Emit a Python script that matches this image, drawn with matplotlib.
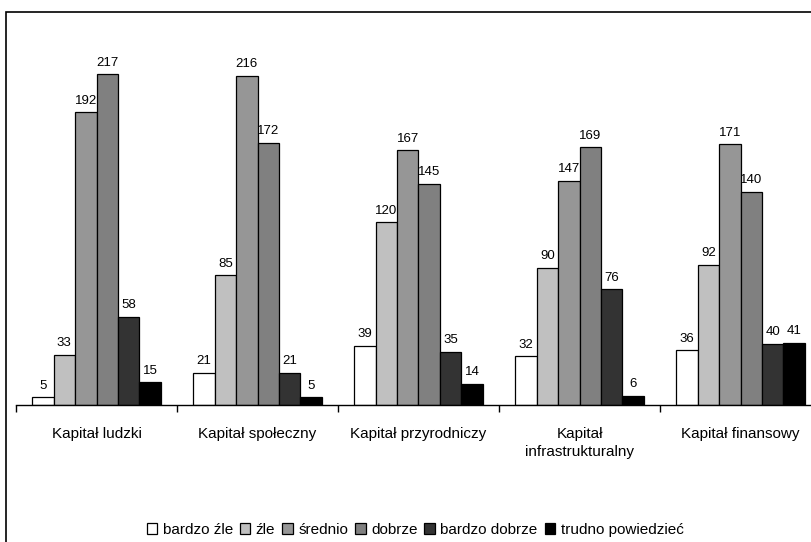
import matplotlib
matplotlib.use("Agg")
import matplotlib.pyplot as plt
import numpy as np
from matplotlib.patches import Rectangle

plt.rcParams['font.family'] = ['Liberation Sans', 'DejaVu Sans']

categories = ["Kapitał ludzki", "Kapitał społeczny", "Kapitał przyrodniczy",
              "Kapitał\ninfrastrukturalny", "Kapitał finansowy"]
series_names = ["bardzo źle", "źle", "średnio", "dobrze", "bardzo dobrze", "trudno powiedzieć"]
bardzo_zle = [5, 21, 39, 32, 36]
zle = [33, 85, 120, 90, 92]
srednio = [192, 216, 167, 147, 171]
dobrze = [217, 172, 145, 169, 140]
bardzo_dobrze = [58, 21, 35, 76, 40]
trudno = [15, 5, 14, 6, 41]
series = [bardzo_zle, zle, srednio, dobrze, bardzo_dobrze, trudno]
colors = ["#FFFFFF", "#C0C0C0", "#969696", "#808080", "#333333", "#000000"]

W, H = 812, 542
fig = plt.figure(figsize=(W / 100, H / 100), dpi=100)
fig.patch.set_facecolor("white")

# outer frame (extends beyond right/bottom edges)
fig.patches.append(Rectangle((6 / W, -0.1), 1.2, 1 - 12 / H + 0.1, transform=fig.transFigure,
                             fill=False, edgecolor="black", linewidth=1.2))

ax_left, ax_right = 16, 821
base_y, top_y = 405, 24
ax = fig.add_axes([ax_left / W, 1 - base_y / H, (ax_right - ax_left) / W, (base_y - top_y) / H])
ax.set_xlim(-0.5, len(categories) - 0.5)
ax.set_ylim(0, 250)

x = np.arange(len(categories))
bw = 0.1335
n = len(series)
for i, (vals, c, name) in enumerate(zip(series, colors, series_names)):
    pos = x + (i - (n - 1) / 2) * bw
    bars = ax.bar(pos, vals, width=bw, color=c, edgecolor="black", linewidth=0.9, label=name)
    for b, v in zip(bars, vals):
        ax.annotate(str(v), (b.get_x() + b.get_width() / 2, v), xytext=(0, 4),
                    textcoords="offset points", ha="center", va="bottom", fontsize=9.5)

for s in ["top", "right", "left"]:
    ax.spines[s].set_visible(False)
ax.spines["bottom"].set_linewidth(1.0)
ax.set_yticks([])
ax.set_xticks(x)
ax.set_xticklabels(categories, fontsize=11, linespacing=1.3)
ax.tick_params(axis="x", which="major", length=0, pad=16)
ax.set_xticks(np.arange(-0.5, len(categories), 1.0), minor=True)
ax.tick_params(axis="x", which="minor", length=5, width=1.0, direction="out")
ax.patch.set_alpha(0)

fig.legend(loc="center", bbox_to_anchor=(415 / W, 1 - 530 / H), ncol=6, frameon=False,
           fontsize=11, handlelength=0.7, handleheight=0.7, handletextpad=0.35,
           columnspacing=0.45, borderpad=0)

fig.savefig("out.png", dpi=100)
